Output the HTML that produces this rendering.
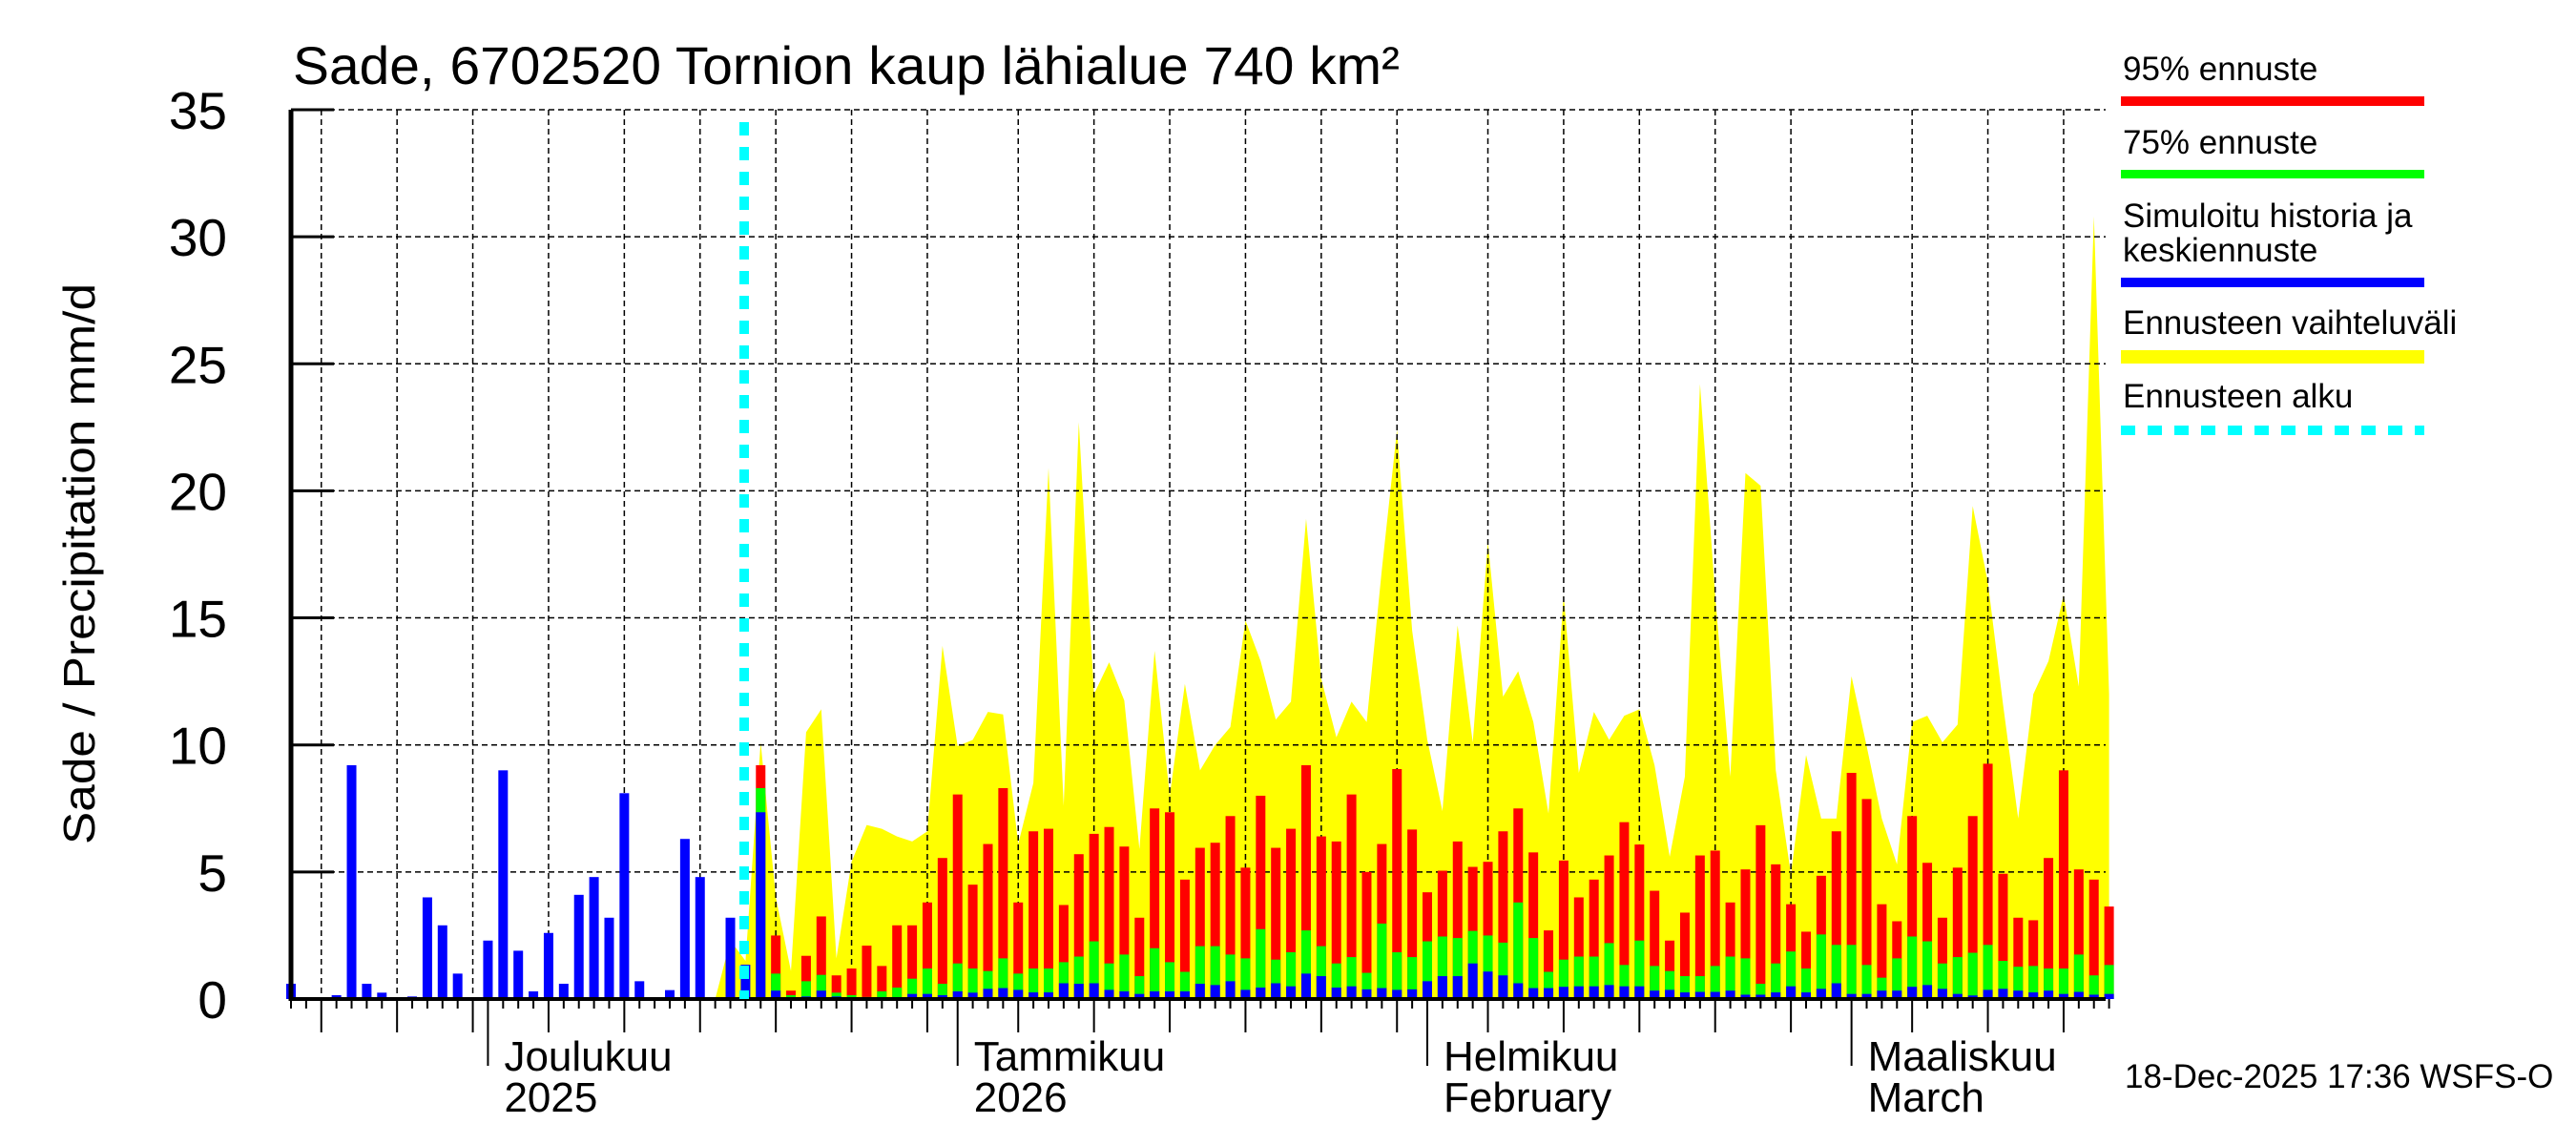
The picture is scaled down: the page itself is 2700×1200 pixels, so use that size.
<!DOCTYPE html>
<html><head><meta charset="utf-8"><style>
html,body{margin:0;padding:0;background:#fff;}
svg{display:block;font-family:"Liberation Sans",Arial,sans-serif;}
</style></head><body>
<svg id="chart" width="2700" height="1200" viewBox="0 0 2700 1200" xmlns="http://www.w3.org/2000/svg">
<text x="307" y="88" font-size="56" textLength="1160" lengthAdjust="spacingAndGlyphs">Sade, 6702520 Tornion kaup lähialue 740 km²</text>
<text transform="translate(99,591) rotate(-90)" text-anchor="middle" font-size="46" textLength="588" lengthAdjust="spacingAndGlyphs">Sade / Precipitation   mm/d</text>
<g id="yellow"></g>
<g id="grid"></g>
<g id="bars"></g>
<g id="axes"></g>
<g id="legend">
<text x="2225" y="84" font-size="35">95% ennuste</text>
<rect x="2223" y="101" width="318" height="10" fill="#ff0000"/>
<text x="2225" y="161" font-size="35">75% ennuste</text>
<rect x="2223" y="178" width="318" height="9" fill="#00ff00"/>
<text x="2225" y="238" font-size="35">Simuloitu historia ja</text>
<text x="2225" y="274" font-size="35">keskiennuste</text>
<rect x="2223" y="291" width="318" height="10" fill="#0000ff"/>
<text x="2225" y="350" font-size="35">Ennusteen vaihteluväli</text>
<rect x="2223" y="367" width="318" height="14" fill="#ffff00"/>
<text x="2225" y="427" font-size="35">Ennusteen alku</text>
<line x1="2223" y1="451" x2="2541" y2="451" stroke="#00ffff" stroke-width="10" stroke-dasharray="15,13"/>
</g>
<text x="2227" y="1140" font-size="35">18-Dec-2025 17:36 WSFS-O</text>
</svg>
<script>
// observed daily precipitation (mm/d), day index 0 = 18 Nov 2025
const observed = [0.6,0.05,0.05,0.15,9.2,0.6,0.25,0,0.1,4.0,2.9,1.0,0.05,2.3,9.0,1.9,0.3,2.6,0.6,4.1,4.8,3.2,8.1,0.7,0.05,0.35,6.3,4.8,0,3.2,1.35];
// forecast starting at day index 31
const forecastStart = 31;
const p95 = [9.2,2.5,0.33,1.7,3.25,0.93,1.2,2.1,1.3,2.9,2.9,3.8,5.55,8.05,4.5,6.1,8.3,3.8,6.6,6.7,3.7,5.7,6.5,6.77,6.0,3.2,7.5,7.35,4.7,5.95,6.15,7.2,5.17,8.0,5.95,6.7,9.2,6.4,6.2,8.05,5.0,6.1,9.05,6.67,4.2,5.05,6.2,5.2,5.4,6.6,7.5,5.77,2.7,5.45,4.0,4.7,5.65,6.96,6.08,4.26,2.3,3.4,5.65,5.84,3.8,5.1,6.84,5.3,3.73,2.65,4.85,6.6,8.9,7.87,3.73,3.06,7.2,5.36,3.2,5.17,7.2,9.26,4.93,3.2,3.1,5.55,9.0,5.1,4.7,3.64];
const p75 = [8.3,1.0,0.15,0.7,0.95,0.25,0.15,0.08,0.3,0.45,0.8,1.2,0.6,1.4,1.2,1.1,1.6,1.0,1.2,1.2,1.45,1.67,2.27,1.4,1.75,0.9,2.0,1.45,1.07,2.08,2.08,1.75,1.6,2.75,1.55,1.84,2.7,2.08,1.4,1.65,1.03,2.97,1.84,1.65,2.27,2.46,2.4,2.68,2.5,2.22,3.8,2.4,1.07,1.55,1.67,1.67,2.2,1.34,2.3,1.3,1.1,0.9,0.9,1.3,1.67,1.6,0.6,1.4,1.87,1.2,2.54,2.13,2.13,1.34,0.84,1.6,2.46,2.27,1.4,1.65,1.82,2.13,1.5,1.27,1.3,1.2,1.2,1.75,0.93,1.34];
const median = [7.35,0.33,0.05,0.1,0.33,0.1,0.05,0.05,0.05,0.07,0.2,0.2,0.15,0.3,0.25,0.4,0.43,0.36,0.26,0.26,0.62,0.6,0.62,0.36,0.3,0.2,0.3,0.3,0.3,0.6,0.55,0.7,0.36,0.45,0.62,0.5,1.0,0.9,0.45,0.5,0.38,0.43,0.36,0.38,0.7,0.9,0.9,1.4,1.08,0.93,0.62,0.43,0.43,0.48,0.5,0.5,0.55,0.5,0.5,0.33,0.36,0.26,0.28,0.28,0.33,0.17,0.17,0.26,0.5,0.26,0.4,0.62,0.2,0.2,0.33,0.33,0.48,0.55,0.4,0.2,0.14,0.36,0.4,0.33,0.26,0.33,0.2,0.28,0.17,0.2];
// upper edge of forecast range, starting at day index 28
const rangeStart = 28;
const rangeMax = [0,2.3,1.5,10.1,4.0,1.1,10.5,11.4,1.6,5.4,6.85,6.7,6.4,6.2,6.6,13.9,9.95,10.2,11.3,11.2,6.1,8.5,20.9,7.6,22.7,12.0,13.25,11.75,5.9,13.7,8.0,12.4,9.0,10.0,10.7,14.9,13.3,11.0,11.7,18.9,12.6,10.3,11.7,10.9,16.9,22.4,14.5,10.2,7.4,14.7,10.1,18.0,11.9,12.9,10.9,7.3,15.9,8.9,11.3,10.2,11.15,11.4,9.2,5.6,8.75,24.2,15.9,8.75,20.7,20.2,9.0,4.9,9.6,7.1,7.1,12.7,9.95,7.1,5.3,10.9,11.15,10.1,10.8,19.4,16.4,11.6,7.1,12.0,13.3,15.9,12.3,30.8,12.0];
const yTicks = [0,5,10,15,20,25,30,35];
const monthLabels = [["Joulukuu","2025"],["Tammikuu","2026"],["Helmikuu","February"],["Maaliskuu","March"]];

const NS = "http://www.w3.org/2000/svg";
const X0 = 305, DAYW = 15.88, NDAYS = 120, XR = 2207, Y0 = 1047, YU = 26.63, BW = 10;
function xs(i){ return X0 + i*DAYW; }
function ys(v){ return Y0 - v*YU; }
function mk(tag, attrs, parent){ const e = document.createElementNS(NS, tag); for (const k in attrs) e.setAttribute(k, attrs[k]); parent.appendChild(e); return e; }

const gY = document.getElementById('yellow');
const gG = document.getElementById('grid');
const gB = document.getElementById('bars');
const gA = document.getElementById('axes');

// yellow range polygon
let pts = [];
for (let k = 0; k < rangeMax.length; k++) pts.push(xs(rangeStart+k)+','+ys(rangeMax[k]));
pts.push(xs(rangeStart+rangeMax.length-1)+','+Y0);
pts.push(xs(rangeStart)+','+Y0);
const poly = mk('polygon', {points: pts.join(' '), fill:'#ffff00'}, gY);



// horizontal grid + y ticks + labels
yTicks.forEach(v => {
  if (v > 0) {
    const gl = mk('line', {x1:X0, y1:ys(v), x2:XR, y2:ys(v), stroke:'#000', 'stroke-width':1.5, 'stroke-dasharray':'6,4'}, gG);
    
    
  }
  const tk = mk('line', {x1:X0, y1:ys(v), x2:350, y2:ys(v), stroke:'#000', 'stroke-width':3}, gA);
  
  
  const t = mk('text', {x:238, y:ys(v)+20, 'text-anchor':'end', 'font-size':55}, gA);
  t.textContent = v;
  
  
});

// x grid & ticks by date
const start = new Date(2025, 10, 18);
let monthIdx = 0;
for (let i = 0; i <= NDAYS; i++) {
  const d = new Date(start.getFullYear(), start.getMonth(), start.getDate()+i);
  const dom = d.getDate();
  const x = xs(i);
  let len = 10;
  if (dom === 1) {
    len = 70;
    const ml = mk('line', {x1:x, y1:Y0, x2:x, y2:Y0+len, stroke:'#000', 'stroke-width':2}, gA);
    
    
    const lab = monthLabels[monthIdx++];
    if (lab) {
      const t1 = mk('text', {x:x+17, y:1122, 'font-size':44}, gA);
      t1.textContent = lab[0];
      
      
      const t2 = mk('text', {x:x+17, y:1165, 'font-size':44}, gA);
      t2.textContent = lab[1];
      
      
    }
    continue;
  }
  if (dom % 5 === 0) {
    len = 35;
    const gl = mk('line', {x1:x, y1:ys(35), x2:x, y2:Y0, stroke:'#000', 'stroke-width':1.5, 'stroke-dasharray':'6,4'}, gG);
    
    
  }
  const tk = mk('line', {x1:x, y1:Y0, x2:x, y2:Y0+len, stroke:'#000', 'stroke-width':2}, gA);
  
  
}

// observed bars
observed.forEach((v, i) => {
  const r = mk('rect', {x:xs(i)-BW/2, y:ys(v), width:BW, height:v*YU, fill:'#0000ff'}, gB);
  
  
});
// forecast stacked bars
for (let k = 0; k < p95.length; k++) {
  const x = xs(forecastStart+k)-BW/2;
  const r1 = mk('rect', {x:x, y:ys(p95[k]), width:BW, height:p95[k]*YU, fill:'#ff0000'}, gB);
  
  
  const r2 = mk('rect', {x:x, y:ys(p75[k]), width:BW, height:p75[k]*YU, fill:'#00ff00'}, gB);
  
  
  const r3 = mk('rect', {x:x, y:ys(median[k]), width:BW, height:median[k]*YU, fill:'#0000ff'}, gB);
  
  
}

// axes lines
const ya = mk('line', {x1:X0, y1:ys(35), x2:X0, y2:Y0+2, stroke:'#000', 'stroke-width':5}, gA);


const xa = mk('line', {x1:X0, y1:Y0, x2:XR, y2:Y0, stroke:'#000', 'stroke-width':4}, gA);



// forecast start line
const fs = mk('line', {x1:780, y1:128, x2:780, y2:Y0, stroke:'#00ffff', 'stroke-width':10, 'stroke-dasharray':'14,12'}, gA);


</script>
</body></html>
